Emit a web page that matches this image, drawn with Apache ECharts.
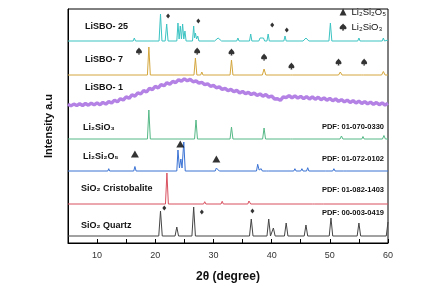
<!DOCTYPE html>
<html>
<head>
<meta charset="utf-8">
<script src="https://cdn.jsdelivr.net/npm/echarts@6/dist/echarts.min.js"></script>
<style>
  html, body { margin: 0; padding: 0; background: #fff; }
  #chart { width: 434px; height: 297px; }
</style>
</head>
<body>
<div id="chart"></div>
<script>
// XRD patterns, [2theta, intensity above own baseline]
var lisbo25 = [[5,0],[16.2,0],[16.4,3],[16.6,0],[20.65,0],[20.9,27],[21.15,0],[21.7,0],[21.96,17],[22.2,0],
  [23.7,0],[23.9,18],[24.1,2],[24.3,15],[24.5,2],[24.7,17],[24.9,2],[25.1,10],[25.3,0],[26.4,0],[26.6,15],
  [26.75,3],[26.9,8],[27.1,2],[27.3,5],[27.5,0],[30.2,0],[30.8,3],[31.4,0],[34.0,0],[34.2,3],[34.4,0],
  [36.2,0],[36.4,7],[36.6,0],[37.8,0],[38.0,3],[38.3,1],[38.6,3],[38.8,0],[39.2,0],[39.4,7],[39.6,0],
  [42.1,0],[42.3,5],[42.5,0],[45.4,0],[45.9,3],[46.4,0],[49.85,0],[50.1,18],[50.35,0],[54.8,0],[55.0,3],
  [55.2,0],[59.0,0],[59.2,3],[59.4,0],[60,1]];
var lisbo7 = [[5,0],[18.65,0],[18.9,28],[19.15,0],[26.65,0],[26.9,17],[27.15,0],[27.8,0],[28.0,3],[28.2,0],
  [32.85,0],[33.1,15],[33.35,0],[38.4,0],[38.7,6],[39.0,0],[43.2,0],[43.4,1.5],[43.6,0],[51.5,0],[51.8,3],
  [52.1,0],[55.4,0],[55.6,2],[55.8,0],[58.9,0],[59.2,3.5],[59.5,0],[60,0]];
var lisbo1 = [[5,0.8],[5.5,-0.9],[6,0.9],[6.5,-0.6],[7,1.2],[7.5,-0.5],[8,1.5],[8.5,-0.2],[9,1.8],[9.5,0.1],
  [10,2.1],[10.5,0.2],[11,2.6],[11.5,0.9],[12,3.4],[12.5,2.0],[13,4.9],[13.5,3.1],[14,6.3],[14.5,5.0],
  [15,8.1],[15.5,6.7],[16,10.2],[16.5,8.9],[17,12.1],[17.5,11.0],[18,14.5],[18.5,13.0],[19,16.6],[19.5,15.4],
  [20,18.7],[20.5,17.1],[21,20.4],[21.5,19.2],[22,22.3],[22.5,20.8],[23,23.6],[23.5,22.4],[24,25.3],[24.5,23.9],
  [25,26.1],[25.5,24.2],[26,25.6],[26.5,23.2],[27,24.1],[27.5,21.8],[28,22.7],[28.5,20.3],[29,21.2],[29.5,18.7],
  [30,19.6],[30.5,17.2],[31,18.1],[31.5,15.6],[32,16.6],[32.5,14.3],[33,15.6],[33.5,13.2],[34,14.6],[34.5,12.1],
  [35,13.6],[35.5,11.2],[36,12.6],[36.5,10.4],[37,11.9],[37.5,9.6],[38,11.1],[38.5,8.8],[39,10.4],[39.5,7.9],
  [40,9.0],[40.5,6.0],[41,6.3],[41.5,4.6],[42,8.1],[42.5,7.3],[43,9.4],[43.5,7.1],[44,9.1],[44.5,6.8],
  [45,8.7],[45.5,6.3],[46,8.3],[46.5,6.0],[47,8.1],[47.5,5.7],[48,7.8],[48.5,5.3],[49,7.1],[49.5,4.8],
  [50,6.6],[50.5,4.2],[51,6.1],[51.5,3.6],[52,5.4],[52.5,3.1],[53,4.9],[53.5,2.5],[54,4.4],[54.5,2.0],
  [55,3.9],[55.5,1.5],[56,3.4],[56.5,1.1],[57,2.9],[57.5,0.6],[58,2.5],[58.5,0.3],[59,2.1],[59.5,-0.1],[60,1.8]];
var li2sio3 = [[5,0],[18.65,0],[18.9,29],[19.15,0],[26.75,0],[27.0,19],[27.25,0],[32.85,0],[33.1,12],[33.35,0],
  [38.45,0],[38.7,11],[38.95,0],[43.2,0],[43.4,2],[43.6,0],[51.75,0],[52.0,3],[52.25,0],[55.5,0],[55.7,2.5],
  [55.9,0],[59.05,0],[59.3,3.5],[59.55,0],[60,0]];
var li2si2o5 = [[5,0],[11.85,0],[12.0,2.3],[12.15,0],[16.3,0],[16.5,4.5],[16.7,0],[23.7,0],[23.9,21],[24.15,3],
  [24.4,12],[24.6,3],[24.9,29],[25.15,0],[30.3,0],[30.5,3],[30.65,1],[30.8,2.5],[31.0,0],[37.4,0],[37.6,6.7],
  [37.85,1],[38.2,2.3],[38.4,0],[39.1,0],[39.3,1.7],[39.5,0],[43.8,0],[44.0,2.3],[44.2,0],[45.0,0],[45.2,2.3],
  [45.4,0],[46.0,0],[46.2,3.3],[46.4,0],[49.3,0],[49.5,1.7],[49.7,0],[50.5,0],[50.7,2.3],[50.9,0],[52.4,0],
  [52.6,1],[52.8,0],[60,0]];
var cristobalite = [[5,0],[21.75,0],[22.0,31],[22.25,0],[28.3,0],[28.5,2.3],[28.7,0],[31.3,0],[31.5,2.7],[31.7,0],
  [35.9,0],[36.1,3],[36.4,0],[47.0,0],[47.2,1],[47.4,0],[48.5,0],[48.7,0.8],[48.9,0],[60,0]];
var quartz = [[5,0],[20.6,0],[20.9,25],[21.2,0],[23.4,0],[23.7,9],[24.0,0],[26.3,0],[26.6,29],[26.9,0],
  [36.2,0],[36.5,17],[36.8,0],[39.2,0],[39.5,17],[39.8,0],[40.0,0],[40.3,8],[40.6,0],[42.2,0],[42.5,13],
  [42.8,0],[45.6,0],[45.9,11],[46.2,0],[49.9,0],[50.2,18],[50.5,0],[54.7,0],[55.0,13],[55.3,0],[59.7,0],[60,14]];

var patterns = [lisbo25, lisbo7, lisbo1, li2sio3, li2si2o5, cristobalite, quartz];
var offsets = [202, 168, 138, 104, 72, 39, 7];
var colors = ['#3cc3c3', '#d4a63c', '#b382e4', '#55b886', '#3a72d4', '#d9505f', '#454545'];
var leftNames = ['LiSBO- 25', 'LiSBO- 7', 'LiSBO- 1', 'Li₂SiO₃', 'Li₂Si₂O₅', 'SiO₂ Cristobalite', 'SiO₂ Quartz'];
var pdfNames = ['PDF: 01-070-0330', 'PDF: 01-072-0102', 'PDF: 01-082-1403', 'PDF: 00-003-0419'];

// phase markers, [2theta, stacked intensity]
var quartzMarks = [[22.2, 227], [27.4, 222], [40.1, 218], [42.6, 213], [21.55, 35], [28.0, 31], [36.7, 32]];
var spadeMarks = [[17.2, 192], [27.2, 192], [33.1, 191], [38.7, 186], [43.4, 177], [51.5, 181], [55.9, 181]];
var triangleMarks = [[16.5, 89], [24.3, 99], [30.5, 84]];

var spade = 'path://M50,0 C40,18 0,40 0,64 C0,82 22,90 42,76 L34,100 L66,100 L58,76 C78,90 100,82 100,64 C100,40 60,18 50,0 Z';

var chart = echarts.init(document.getElementById('chart'));

var series = patterns.map(function (p, i) {
  return {
    type: 'line',
    data: p.map(function (d) { return [d[0], d[1] + offsets[i]]; }),
    showSymbol: false,
    silent: true,
    lineStyle: { color: colors[i], width: i == 2 ? 3.4 : 1 },
    z: 2
  };
});
series.push({
  type: 'scatter', name: 'quartz', data: quartzMarks,
  symbol: 'diamond', symbolSize: [4, 5], itemStyle: { color: '#000' }, silent: true
});
series.push({
  type: 'scatter', name: 'Li₂Si₂O₅', data: triangleMarks,
  symbol: 'triangle', symbolSize: [8, 7], itemStyle: { color: '#000' }, silent: true
});
series.push({
  type: 'scatter', name: 'Li₂SiO₃', data: spadeMarks,
  symbol: spade, symbolSize: [6, 7], itemStyle: { color: '#000' }, silent: true
});

var labelY = [27, 60, 88, 128, 157, 189, 226];
var labelX = [85, 85, 85, 83, 83, 81, 81];
var pdfY = [127, 159, 190, 213];
var graphics = [];
leftNames.forEach(function (t, i) {
  graphics.push({
    type: 'text', x: labelX[i], y: labelY[i],
    style: { text: t, fill: '#111', font: 'bold 9px "Liberation Sans", Arial', verticalAlign: 'middle' }
  });
});
pdfNames.forEach(function (t, i) {
  graphics.push({
    type: 'text', x: 384, y: pdfY[i],
    style: { text: t, fill: '#111', font: 'bold 7.5px "Liberation Sans", Arial', align: 'right', verticalAlign: 'middle' }
  });
});

chart.setOption({
  animation: false,
  backgroundColor: '#fff',
  grid: {
    left: 68, right: 46, top: 9, bottom: 54,
    show: true, borderColor: '#000', borderWidth: 1,
    outerBoundsMode: 'none'
  },
  legend: {
    data: ['Li₂Si₂O₅', 'Li₂SiO₃'],
    orient: 'vertical', right: 48, top: 7,
    itemWidth: 7, itemHeight: 7, itemGap: 5, padding: 0,
    textStyle: { fontSize: 9.5, color: '#111', fontFamily: 'Liberation Sans' }
  },
  xAxis: {
    type: 'value', min: 5, max: 60, interval: 5,
    name: '2θ (degree)', nameLocation: 'middle', nameGap: 28,
    nameTextStyle: { fontSize: 12, fontWeight: 'bold', color: '#111', fontFamily: 'Liberation Sans' },
    axisLine: { lineStyle: { color: '#000', width: 1 } },
    axisTick: { inside: true, length: 4, lineStyle: { color: '#000' } },
    axisLabel: {
      margin: 8, fontSize: 9, color: '#333', fontFamily: 'Liberation Sans',
      formatter: function (v) { return v % 10 === 0 ? v : ''; }
    },
    splitLine: { show: false }
  },
  yAxis: {
    type: 'value', min: 0, max: 234,
    name: 'Intensity a.u', nameLocation: 'middle', nameGap: 14, nameRotate: 90,
    nameTextStyle: { fontSize: 11, fontWeight: 'bold', color: '#111', fontFamily: 'Liberation Sans' },
    axisLine: { show: true, lineStyle: { color: '#000', width: 1 } },
    axisTick: { show: false },
    axisLabel: { show: false },
    splitLine: { show: false }
  },
  graphic: graphics,
  series: series
});
</script>
</body>
</html>
